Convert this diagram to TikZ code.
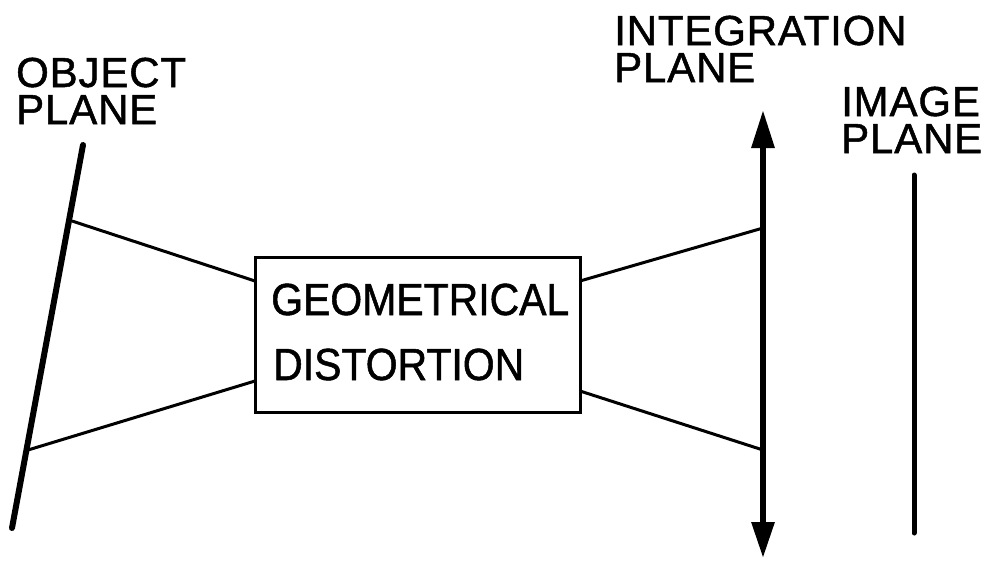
\documentclass[tikz,border=0pt]{standalone}
\usepackage{fontspec}
\setmainfont[FakeBold=1.2]{Liberation Sans}
\newfontfamily\lblfont[FakeBold=1.2,LetterSpace=2]{Liberation Sans}
\newfontfamily\boxfont[FakeStretch=0.91,FakeBold=1.2]{Liberation Sans}
\usetikzlibrary{arrows.meta}
\begin{document}
\begin{tikzpicture}[x=1pt,y=-1pt,
  lbl/.style={anchor=base west,inner sep=0,align=left,font=\lblfont\fontsize{42}{37}\selectfont},
  boxlbl/.style={anchor=base west,inner sep=0,align=left,font=\boxfont\fontsize{45}{65}\selectfont},
  plane/.style={line width=6pt,line cap=round},
  ray/.style={line width=3pt},
  boxstyle/.style={draw,line width=3pt,minimum width=325pt,minimum height=155pt,inner sep=0}]
\useasboundingbox (0,0) rectangle (995,560);
% labels (anchor = baseline of last line)
\node[lbl] (obj) at (16,124) {OBJECT\\PLANE};
\node[lbl] (int) at (614,82) {INTEGRATION\\PLANE};
\node[lbl] (img) at (841,153) {IMAGE\\PLANE};
% box
\node[boxstyle] (box) at (417.5,334.5) {};
\node[boxlbl] (txt) at (271,380) {GEOMETRICAL\\\hspace*{2pt}DISTORTION};
% planes
\coordinate (optop) at (83,145);
\coordinate (opbot) at (12,528);
\draw[plane] (optop) -- (opbot);
\coordinate (inttop) at (763,110);
\coordinate (intbot) at (763,558);
\draw[line width=6pt,{Triangle[width=22pt,length=38pt]}-{Triangle[width=22pt,length=36pt]}] (inttop) -- (intbot);
\coordinate (imgtop) at (914,175);
\coordinate (imgbot) at (914,533);
\draw[line width=5pt,line cap=round] (imgtop) -- (imgbot);
% rays
\coordinate (op1) at (72,221);
\coordinate (op2) at (28,450);
\coordinate (bl1) at (255,281);
\coordinate (bl2) at (255,381);
\coordinate (br1) at (580,281);
\coordinate (br2) at (580,391);
\coordinate (ip1) at (763,228);
\coordinate (ip2) at (763,450);
\draw[ray] (op1) -- (bl1);
\draw[ray] (op2) -- (bl2);
\draw[ray] (br1) -- (ip1);
\draw[ray] (br2) -- (ip2);
\end{tikzpicture}
\end{document}
